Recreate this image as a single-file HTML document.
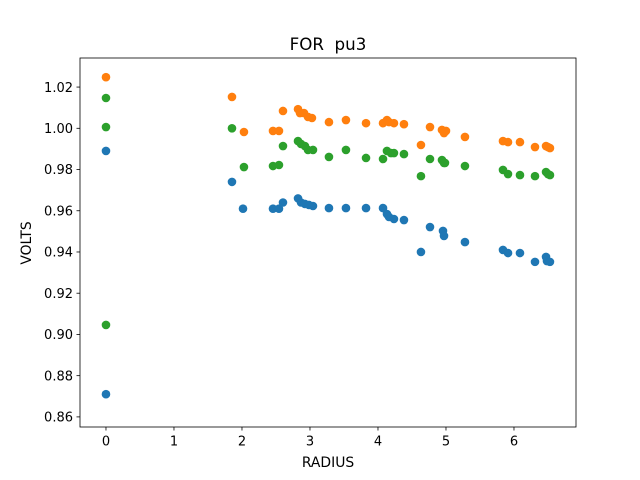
<!DOCTYPE html>
<html><head><meta charset="utf-8"><style>
body{margin:0;background:#fff;}
svg{display:block;font-family:"DejaVu Sans","Liberation Sans",sans-serif;}
</style></head><body>
<svg id="chart" width="640" height="480" xmlns="http://www.w3.org/2000/svg">
<rect width="640" height="480" fill="#fff"/>
<text x="328" y="50" font-size="16.7" text-anchor="middle">FOR&#160; pu3</text>
<text x="328" y="467" font-size="13.9" text-anchor="middle">RADIUS</text>
<text x="31" y="243" font-size="13.9" text-anchor="middle" transform="rotate(-90 31 243)">VOLTS</text>
<g id="ticks"></g>
<g id="marks"></g>
<rect x="80" y="58" width="496" height="369" fill="none" stroke="#000" stroke-width="0.8"/>
</svg>
<script>
const xTicks=[0,1,2,3,4,5,6];
const yTicks=[0.86,0.88,0.90,0.92,0.94,0.96,0.98,1.00,1.02];
const blueX=[0,0,1.853,2.015,2.456,2.544,2.603,2.824,2.868,2.926,2.985,3.044,3.279,3.529,3.824,4.074,4.132,4.162,4.235,4.382,4.632,4.765,4.956,4.971,5.279,5.838,5.912,6.088,6.309,6.471,6.485,6.529];
const blueY=[0.989,0.871,0.974,0.961,0.961,0.961,0.964,0.966,0.964,0.9633,0.9628,0.9623,0.9613,0.9613,0.9613,0.9613,0.9584,0.957,0.956,0.9555,0.94,0.9521,0.9502,0.9478,0.9448,0.941,0.9395,0.9395,0.9352,0.9376,0.9356,0.9352];
const orangeX=[0,1.853,2.029,2.456,2.544,2.603,2.824,2.853,2.912,2.971,3.029,3.279,3.529,3.824,4.074,4.132,4.162,4.235,4.382,4.632,4.765,4.941,4.971,5.0,5.279,5.838,5.912,6.088,6.309,6.471,6.5,6.529];
const orangeY=[1.0248,1.0152,0.9982,0.9987,0.9987,1.0084,1.0093,1.0074,1.0074,1.0055,1.005,1.003,1.004,1.0025,1.0025,1.004,1.003,1.0025,1.002,0.9919,1.0006,0.9992,0.9977,0.9987,0.9958,0.9938,0.9933,0.9933,0.9909,0.9914,0.9909,0.9904];
const greenX=[0,0,0,1.853,2.029,2.456,2.544,2.603,2.824,2.868,2.926,2.971,3.044,3.279,3.529,3.824,4.074,4.132,4.191,4.235,4.382,4.632,4.765,4.941,4.971,4.985,5.279,5.838,5.912,6.088,6.309,6.471,6.5,6.529];
const greenY=[1.0006,1.0147,0.9046,1.0,0.9812,0.9817,0.9822,0.9914,0.9938,0.9924,0.9914,0.9895,0.9895,0.9861,0.9895,0.9856,0.9851,0.989,0.988,0.988,0.9875,0.9768,0.9851,0.9846,0.9832,0.9832,0.9817,0.9798,0.9778,0.9773,0.9768,0.9788,0.9778,0.9773];
const X0=80,X1=576,Y0=58,Y1=427,xmin=-0.382,xmax=6.912,ymin=0.8551,ymax=1.0341;
const sx=v=>X0+(v-xmin)/(xmax-xmin)*(X1-X0);
const sy=v=>Y1-(v-ymin)/(ymax-ymin)*(Y1-Y0);
const NS="http://www.w3.org/2000/svg";
const tg=document.getElementById('ticks'),mg=document.getElementById('marks');
function mk(t,a,p){const e=document.createElementNS(NS,t);for(const k in a)e.setAttribute(k,a[k]);p.appendChild(e);return e;}
xTicks.forEach(v=>{const x=sx(v);
 const l=mk('line',{x1:x,x2:x,y1:Y1,y2:Y1+3.5,stroke:'#000','stroke-width':0.8},tg);
 
 
 const t=mk('text',{x:x,y:Y1+18.5,'font-size':13,'text-anchor':'middle'},tg);t.textContent=String(v);
 
 });
yTicks.forEach(v=>{const y=sy(v);
 const l=mk('line',{x1:X0-3.5,x2:X0,y1:y,y2:y,stroke:'#000','stroke-width':0.8},tg);
 
 
 const t=mk('text',{x:X0-7,y:y+4.7,'font-size':13,'text-anchor':'end'},tg);t.textContent=v.toFixed(2);
 
 });
function series(xs,ys,c,name){xs.forEach((v,i)=>{const p=mk('circle',{cx:sx(v),cy:sy(ys[i]),r:4.3,fill:c},mg);
 
 });}
series(blueX,blueY,'#1f77b4','blue-point');
series(orangeX,orangeY,'#ff7f0e','orange-point');
series(greenX,greenY,'#2ca02c','green-point');
</script>
</body></html>
